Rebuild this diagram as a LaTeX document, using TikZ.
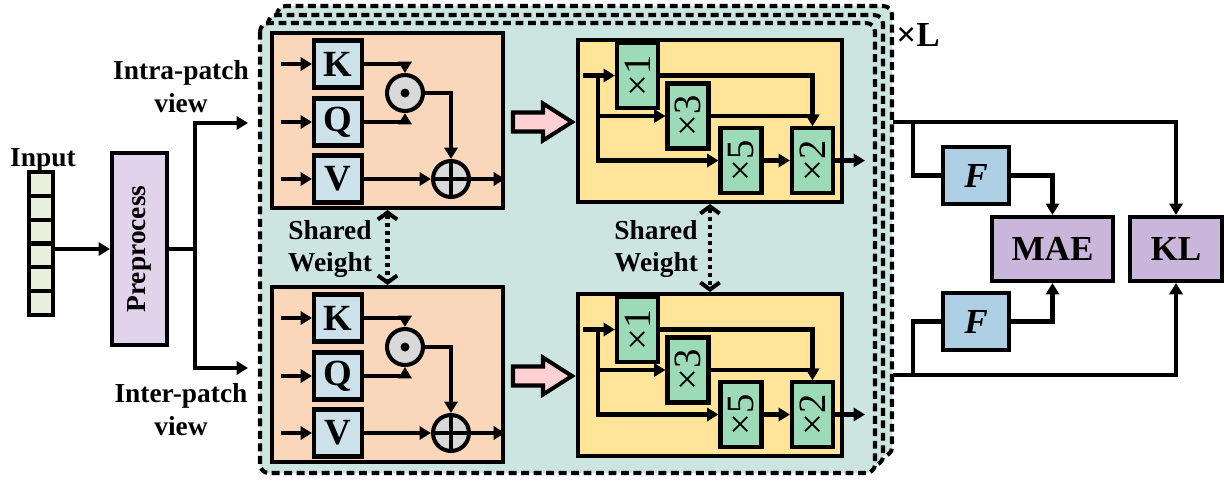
\documentclass[tikz,border=0pt]{standalone}
\usepackage{fontspec}
\setmainfont{Liberation Serif}
\usepackage{xcolor}
\usetikzlibrary{arrows.meta,calc}
\definecolor{stackc}{HTML}{CDE5E0}
\definecolor{attc}{HTML}{FAD7BA}
\definecolor{qkvc}{HTML}{CCE1E9}
\definecolor{msc}{HTML}{FFE49A}
\definecolor{grnc}{HTML}{9DDBB8}
\definecolor{pinkc}{HTML}{FFD1D3}
\definecolor{cellc}{HTML}{E9F0DE}
\definecolor{prec}{HTML}{E1D3EB}
\definecolor{fc}{HTML}{AECFE3}
\definecolor{lossc}{HTML}{CAB6DB}

\begin{document}
\begin{tikzpicture}[x=0.02cm,y=-0.02cm,line width=2.3pt,
    every node/.style={font=\fontsize{15.6}{18.7}\selectfont\bfseries}]
   \tikzstyle{cell}=[draw,fill=cellc,minimum width=0.48cm,minimum height=0.476cm,inner sep=0];
   \tikzstyle{pre}=[draw,fill=prec,minimum width=1.1cm,minimum height=3.84cm,inner sep=0];
   \tikzstyle{stackbox}=[draw,fill=stackc,dash pattern=on 4.5pt off 2.6pt,line width=2.3pt,rounded corners=5pt];
   \tikzstyle{att}=[draw,fill=attc,minimum width=4.62cm,minimum height=3.5cm,inner sep=0];
   \tikzstyle{qkv}=[draw,fill=qkvc,minimum width=0.96cm,minimum height=0.94cm,inner sep=0,
     font=\fontsize{21}{22}\selectfont\bfseries];
   \tikzstyle{odot}=[circle,draw,fill=black!15,minimum size=0.72cm,inner sep=0,
     path picture={\fill[black] (path picture bounding box.center) circle (0.09cm);}];
   \tikzstyle{oplus}=[circle,draw,fill=black!15,minimum size=0.72cm,inner sep=0,
     path picture={\draw (path picture bounding box.north) -- (path picture bounding box.south)
       (path picture bounding box.west) -- (path picture bounding box.east);}];
   \tikzstyle{ms}=[draw,fill=msc,minimum width=5.28cm,minimum height=3.24cm,inner sep=0];
   \tikzstyle{grn}=[draw,fill=grnc,minimum width=0.82cm,minimum height=1.3cm,inner sep=0,
     font=\fontsize{22}{23}\selectfont];
   \tikzstyle{pk}=[draw,fill=pinkc,line join=miter];
   \tikzstyle{fbox}=[draw,fill=fc,minimum width=1.32cm,minimum height=1.14cm,inner sep=0,
     font=\fontsize{20}{22}\selectfont\bfseries\itshape];
   \tikzstyle{loss}=[draw,fill=lossc,minimum height=1.28cm,inner sep=0,
     font=\fontsize{20}{22}\selectfont\bfseries];
   \tikzstyle{l}=[draw,-{Triangle[length=6.5pt,width=7.5pt]}];
   \tikzstyle{ln}=[draw];
   \tikzstyle{shw}=[draw,dash pattern=on 2.4pt off 2.2pt,
     {Straight Barb[length=4pt,width=11pt]}-{Straight Barb[length=4pt,width=11pt]}];
   \useasboundingbox (0,0) rectangle (1225,481);

   % input and preprocessing
   \foreach \i in {0,...,5}
     \node[cell] (c\i) at (41,{184+23.8*\i}) {};
   \node (inp) at (43,160) {Input};
   \node[pre] (pre) at (139.5,249) {\rotatebox{90}{Preprocess}};
   \draw[l] (c3.east |- pre.west) -- (pre.west);
   \coordinate (sp) at (195,249);
   \coordinate (intra) at (248,123);
   \coordinate (inter) at (248,368);
   \draw[ln] (pre.east) -- (sp);
   \draw[l] (sp) |- (intra);
   \draw[l] (sp) |- (inter);
   \node[align=center] (lintra) at (181,87) {Intra-patch\\view};
   \node[align=center] (linter) at (181,410) {Inter-patch\\view};

   % L stacked layers
   \foreach \s in {17,8,0}
     \draw[stackbox] (260+\s,23-\s) rectangle (875+\s,473-\s);
   \node[font=\fontsize{20}{22}\selectfont\bfseries] (times) at (918,35) {×L};

   \foreach \r/\dy in {1/0,2/254}{
   \begin{scope}[shift={(0,\dy)}]
     \node[att] (att\r) at (387.5,120.5) {};
     \node[qkv] (K\r) at (338,64) {K};
     \node[qkv] (Q\r) at (338,122) {Q};
     \node[qkv] (V\r) at (338,179) {V};
     \node[odot] (m\r) at (405,93) {};
     \node[oplus] (p\r) at (451,179) {};
     \foreach \n in {K,Q,V}
       \draw[l] ([xshift=-0.62cm]\n\r.west) -- (\n\r.west);
     \draw[l] (K\r.east) -| (m\r.north);
     \draw[l] (Q\r.east) -| (m\r.south);
     \draw[l] (m\r.east) -| (p\r.north);
     \draw[l] (V\r.east) -- (p\r.west);
     \draw[l] (p\r.east) -- (att\r.east |- p\r.east);
     \draw[pk] (513,112.5) -- (543,112.5) -- (543,103.5) -- (572,122)
       -- (543,140.5) -- (543,131.5) -- (513,131.5) -- cycle;
     \node[ms] (ms\r) at (710,121) {};
     \node[grn] (one\r) at (637.5,75.5) {\rotatebox{90}{×1}};
     \node[grn] (three\r) at (688,116) {\rotatebox{90}{×3}};
     \node[grn] (five\r) at (741,160.5) {\rotatebox{90}{×5}};
     \node[grn] (two\r) at (812.5,160.5) {\rotatebox{90}{×2}};
     \draw[l] ([xshift=-0.64cm]one\r.west) -- (one\r.west);
     \coordinate (br\r) at ([xshift=-0.34cm]one\r.west);
     \draw[l] (br\r) |- (three\r.west);
     \draw[l] (br\r) |- (five\r.west);
     \draw[l] (one\r.east) -| (two\r.north);
     \draw[l] (three\r.east) -| (two\r.north);
     \draw[l] (five\r.east) -- (two\r.west);
     \draw[l] (two\r.east) -- ([xshift=0.6cm]two\r.east);
   \end{scope}
   }

   \draw[shw] (att1.south) -- (att2.north);
   \draw[shw] (ms1.south) -- (ms2.north);
   \node[align=center] (sw1) at (330,249) {Shared\\Weight};
   \node[align=center] (sw2) at (656,249) {Shared\\Weight};

   % losses
   \coordinate (o1) at (893,122);
   \coordinate (o2) at (893,375);
   \node[fbox] (Fa) at (976,175.5) {F};
   \node[fbox] (Fb) at (976,321.5) {F};
   \node[loss,minimum width=2.42cm] (mae) at (1052.5,249) {MAE};
   \node[loss,minimum width=1.84cm] (kl) at (1176,249) {KL};
   \draw[l] (o1) -| (kl.north);
   \draw[l] (o2) -| (kl.south);
   \draw[ln] ([xshift=0.4cm]o1) |- (Fa.west);
   \draw[ln] ([xshift=0.4cm]o2) |- (Fb.west);
   \draw[l] (Fa.east) -| (mae.north);
   \draw[l] (Fb.east) -| (mae.south);
  \end{tikzpicture}
\end{document}
